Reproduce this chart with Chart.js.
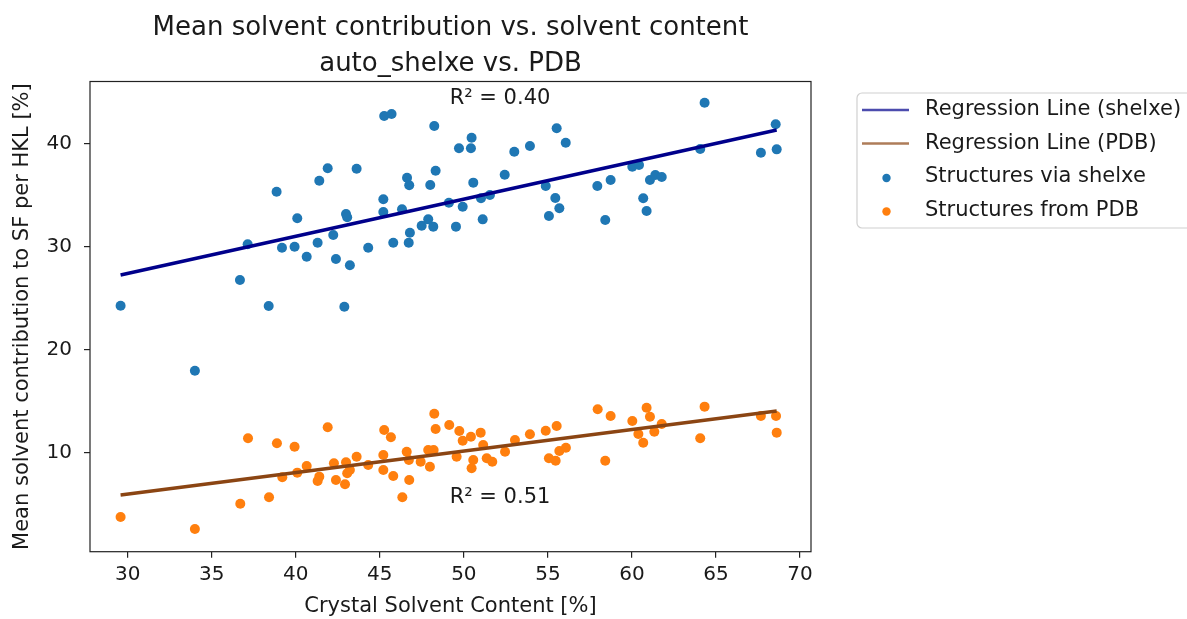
<!DOCTYPE html>
<html>
<head>
<meta charset="utf-8">
<script src="https://cdn.jsdelivr.net/npm/chart.js@4.4.1/dist/chart.umd.min.js"></script>
<style>
  html, body { margin: 0; padding: 0; background: #ffffff; }
  #wrap { position: relative; width: 1187px; height: 619px; }
</style>
</head>
<body>
<div id="wrap"><canvas id="chart" width="1187" height="619"></canvas></div>
<script>
// ---- data ---------------------------------------------------------------
const titleLines = ['Mean solvent contribution vs. solvent content', 'auto_shelxe vs. PDB'];
const xAxisTitle = 'Crystal Solvent Content [%]';
const yAxisTitle = 'Mean solvent contribution to SF per HKL [%]';
const xTicks = [30, 35, 40, 45, 50, 55, 60, 65, 70];
const yTicks = [10, 20, 30, 40];

const seriesNames = ['Regression Line (shelxe)', 'Regression Line (PDB)', 'Structures via shelxe', 'Structures from PDB'];

// solvent content (x) and mean solvent contribution (y), structures built by shelxe
const shelxeX = [41.90, 41.40, 38.86, 40.09, 37.14, 39.18, 39.93, 40.65, 41.30, 36.68,
                 29.58, 38.39, 34.00, 45.26, 45.70, 48.24, 43.62, 49.71, 50.46, 50.42,
                 53.00, 53.93, 55.52, 56.06, 46.62, 46.75, 48.32, 48.00, 50.56, 52.43,
                 45.21, 42.99, 43.06, 45.21, 46.32, 49.11, 49.93, 51.02, 51.55, 54.87,
                 55.44, 55.68, 55.06, 42.23, 42.39, 43.22, 44.31, 45.80, 46.72, 46.79,
                 47.49, 47.88, 48.18, 49.53, 51.12, 42.89, 64.32, 68.55, 68.61, 67.67,
                 64.06, 60.02, 60.42, 57.94, 58.73, 61.07, 61.39, 61.77, 60.67, 60.87,
                 58.41];
const shelxeY = [37.64, 36.43, 35.36, 32.77, 30.24, 29.91, 30.01, 29.04, 30.40, 26.77,
                 24.27, 24.24, 17.95, 42.72, 42.92, 41.75, 37.60, 39.58, 40.61, 39.58,
                 39.25, 39.81, 41.53, 40.13, 36.72, 35.98, 37.40, 36.01, 36.24, 37.01,
                 34.62, 33.19, 32.87, 33.39, 33.65, 34.29, 33.90, 34.72, 35.04, 35.91,
                 34.75, 33.75, 33.00, 31.15, 28.81, 28.20, 29.91, 30.40, 30.40, 31.37,
                 32.05, 32.67, 31.96, 31.96, 32.67, 24.17, 44.02, 41.92, 39.48, 39.15,
                 39.51, 37.79, 37.96, 35.91, 36.50, 36.50, 36.98, 36.79, 34.72, 33.48,
                 32.61];

// same quantities for the deposited PDB structures
const pdbX = [41.90, 37.16, 38.88, 39.93, 40.65, 40.09, 39.20, 41.40, 41.30, 38.41,
              36.70, 29.58, 34.00, 48.24, 48.32, 49.13, 49.73, 49.93, 50.42, 51.00,
              51.15, 45.26, 45.66, 43.62, 42.27, 42.99, 43.22, 43.06, 42.39, 42.93,
              44.31, 45.21, 45.21, 45.80, 46.75, 46.34, 46.60, 46.73, 47.43, 47.88,
              48.20, 47.98, 49.57, 50.56, 50.46, 51.36, 51.69, 52.45, 53.04, 53.93,
              54.87, 55.52, 55.06, 55.46, 55.68, 56.07, 57.96, 58.73, 60.87, 61.07,
              60.02, 60.38, 60.67, 61.33, 61.77, 58.41, 64.06, 64.32, 67.67, 68.57,
              68.61];
const pdbY = [12.44, 11.37, 10.89, 10.55, 8.68, 8.03, 7.58, 7.64, 7.22, 5.63,
              5.01, 3.72, 2.55, 13.76, 12.28, 12.67, 12.08, 11.14, 11.53, 11.92,
              10.72, 12.18, 11.47, 9.58, 8.94, 9.04, 8.29, 7.97, 7.32, 6.90,
              8.77, 9.75, 8.29, 7.70, 7.32, 5.63, 10.07, 9.26, 9.09, 10.23,
              10.23, 8.61, 9.58, 9.26, 8.45, 9.43, 9.09, 10.07, 11.21, 11.76,
              12.11, 12.57, 9.43, 9.19, 10.14, 10.46, 14.19, 13.54, 14.35, 13.47,
              13.05, 11.79, 10.94, 12.01, 12.76, 9.19, 11.37, 14.45, 13.54, 13.54,
              11.92];

// fitted regression lines (end points)
const shelxeFitX = [29.58, 68.61];
const shelxeFitY = [27.26, 41.36];
const pdbFitX = [29.58, 68.61];
const pdbFitY = [5.86, 14.03];
const rSquared = [0.40, 0.51];

// ---- helpers ------------------------------------------------------------
const toPoints = (xs, ys) => xs.map((x, i) => ({ x: x, y: ys[i] }));
const FONT = "'DejaVu Sans', 'Liberation Sans', sans-serif";
const TEXT = '#1a1a1a';

// axes frame on all four sides
const frameBox = {
  id: 'frameBox',
  afterDatasetsDraw(chart) {
    const { ctx, chartArea: a } = chart;
    ctx.save();
    ctx.strokeStyle = '#222';
    ctx.lineWidth = 1.2;
    ctx.strokeRect(a.left, a.top, a.right - a.left, a.bottom - a.top);
    ctx.restore();
  }
};

// two-line title centred over the plotting area
const titleText = {
  id: 'titleText',
  afterDraw(chart) {
    const { ctx, chartArea: a } = chart;
    const cx = (a.left + a.right) / 2;
    ctx.save();
    ctx.fillStyle = TEXT;
    ctx.font = `26px ${FONT}`;
    ctx.textAlign = 'center';
    ctx.textBaseline = 'middle';
    ctx.fillText(titleLines[0], cx, 28);
    ctx.fillText(titleLines[1], cx, 64);
    ctx.restore();
  }
};

// coefficient of determination next to each fit
const r2Text = {
  id: 'r2Text',
  afterDatasetsDraw(chart) {
    const { ctx } = chart;
    const xs = chart.scales.x, ys = chart.scales.y;
    const spots = [[52.15, 44.45], [52.15, 5.59]];
    ctx.save();
    ctx.fillStyle = TEXT;
    ctx.font = `21px ${FONT}`;
    ctx.textAlign = 'center';
    ctx.textBaseline = 'middle';
    rSquared.forEach((r, i) => {
      ctx.fillText('R² = ' + r.toFixed(2), xs.getPixelForValue(spots[i][0]), ys.getPixelForValue(spots[i][1]));
    });
    ctx.restore();
  }
};

// framed legend to the right of the axes
const sideLegend = {
  id: 'sideLegend',
  afterDraw(chart) {
    const { ctx } = chart;
    const left = 857, top = 93, height = 135, width = 345;
    ctx.save();
    ctx.fillStyle = '#fff';
    ctx.strokeStyle = '#d0d0d0';
    ctx.lineWidth = 1.2;
    ctx.beginPath();
    ctx.roundRect(left, top, width, height, 5);
    ctx.fill();
    ctx.stroke();
    const rows = [110, 143.5, 177, 210.5];
    ctx.font = `21px ${FONT}`;
    ctx.textBaseline = 'middle';
    ctx.textAlign = 'left';
    chart.data.datasets.forEach((ds, i) => {
      const y = rows[i];
      if (ds.type === 'line') {
        ctx.strokeStyle = ds.legendColor;
        ctx.lineWidth = 2.6;
        ctx.beginPath();
        ctx.moveTo(862, y);
        ctx.lineTo(909, y);
        ctx.stroke();
      } else {
        ctx.fillStyle = ds.backgroundColor;
        ctx.beginPath();
        ctx.arc(886.5, y + 1, 4.2, 0, Math.PI * 2);
        ctx.fill();
      }
      ctx.fillStyle = TEXT;
      ctx.fillText(ds.label, 925, y);
    });
    ctx.restore();
  }
};

// ---- chart --------------------------------------------------------------
new Chart(document.getElementById('chart'), {
  type: 'scatter',
  data: {
    datasets: [
      { type: 'line', label: seriesNames[0], data: toPoints(shelxeFitX, shelxeFitY),
        borderColor: '#00008b', legendColor: 'rgba(0,0,139,0.7)',
        borderWidth: 3.4, pointRadius: 0, fill: false, order: 0 },
      { type: 'line', label: seriesNames[1], data: toPoints(pdbFitX, pdbFitY),
        borderColor: '#8b4513', legendColor: 'rgba(139,69,19,0.7)',
        borderWidth: 3.4, pointRadius: 0, fill: false, order: 0 },
      { label: seriesNames[2], data: toPoints(shelxeX, shelxeY),
        backgroundColor: '#1f77b4', borderWidth: 0, pointRadius: 5, order: 1 },
      { label: seriesNames[3], data: toPoints(pdbX, pdbY),
        backgroundColor: '#ff7f0e', borderWidth: 0, pointRadius: 5, order: 1 }
    ]
  },
  options: {
    responsive: false,
    animation: false,
    devicePixelRatio: 1,
    layout: { padding: { left: 0, top: 81.5, right: 376, bottom: 0 } },
    plugins: { legend: { display: false }, title: { display: false }, tooltip: { enabled: false } },
    scales: {
      x: {
        type: 'linear', min: 27.76, max: 70.65,
        afterBuildTicks: (s) => { s.ticks = xTicks.map(v => ({ value: v })); },
        afterFit: (s) => { s.height = 67.3; s.paddingLeft = 0; s.paddingRight = 0; },
        grid: { drawOnChartArea: false, drawTicks: true, tickLength: 6, color: '#222', lineWidth: 1.2 },
        border: { display: false },
        ticks: { color: TEXT, font: { family: FONT, size: 20 }, padding: 5, maxRotation: 0 },
        title: { display: true, text: xAxisTitle, color: TEXT, font: { family: FONT, size: 21 }, padding: { top: 0, bottom: 0 } }
      },
      y: {
        type: 'linear', min: 0.34, max: 46.08,
        afterBuildTicks: (s) => { s.ticks = yTicks.map(v => ({ value: v })); },
        afterFit: (s) => { s.width = 90; s.paddingTop = 0; s.paddingBottom = 0; },
        grid: { drawOnChartArea: false, drawTicks: true, tickLength: 6, color: '#222', lineWidth: 1.2 },
        border: { display: false },
        ticks: { color: TEXT, font: { family: FONT, size: 20 }, padding: 12 },
        title: { display: true, text: yAxisTitle, color: TEXT, font: { family: FONT, size: 21 }, padding: { top: 10, bottom: 0 } }
      }
    }
  },
  plugins: [frameBox, titleText, r2Text, sideLegend]
});
</script>
</body>
</html>
